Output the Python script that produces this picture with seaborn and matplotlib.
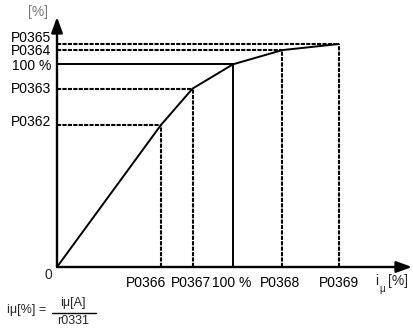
import matplotlib
matplotlib.use("Agg")
import matplotlib.pyplot as plt
import seaborn as sns
import pandas as pd

# ---- data (in % units) ----
x_labels = ["P0366", "P0367", "100 %", "P0368", "P0369"]
y_labels = ["P0362", "P0363", "100 %", "P0364", "P0365"]
x_vals = [59, 77, 100, 128, 160]
y_vals = [70, 88, 100, 107, 110]

sns.set_theme(style="white")
plt.rcParams["font.family"] = ["Liberation Sans", "DejaVu Sans"]

W, H = 413, 328
fig = plt.figure(figsize=(W / 100, H / 100), dpi=100)
ax = fig.add_axes([0, 0, 1, 1])

# pixel mapping helpers (layout only)
X0, Y0, SX, SY = 57, 267, 1.76, 2.027
def dx(px):
    return (px - X0) / SX
def dy(py):
    return (Y0 - py) / SY

ax.set_xlim(dx(0), dx(W))
ax.set_ylim(dy(H), dy(0))
ax.axis("off")

df = pd.DataFrame({"x": [0] + x_vals, "y": [0] + y_vals})
sns.lineplot(data=df, x="x", y="y", color="black", lw=1.4, ax=ax, sort=False)

dash = (0, (2.0, 0.6))
for xv, yv, xl in zip(x_vals, y_vals, x_labels):
    ls = "-" if xl == "100 %" else dash
    lw = 1.4 if xl == "100 %" else 1.5
    ax.plot([0, xv], [yv, yv], color="black", lw=lw, linestyle=ls)
    ax.plot([xv, xv], [0, yv], color="black", lw=lw, linestyle=ls)

# axes arrows
arrow = dict(arrowstyle="-|>,head_length=0.55,head_width=0.2", lw=1.7,
             color="black", mutation_scale=17, shrinkA=0, shrinkB=0)
ax.annotate("", xy=(0, dy(17)), xytext=(0, 0), arrowprops=arrow, annotation_clip=False)
ax.annotate("", xy=(dx(412), 0), xytext=(0, 0), arrowprops=arrow, annotation_clip=False)

fs = 10
# y tick labels (pixel nudges)
y_offsets = {"P0362": -3, "P0363": 0, "100 %": 1.5, "P0364": 0.5, "P0365": -6.5}
for yv, yl in zip(y_vals, y_labels):
    ax.text(dx(51), yv - y_offsets[yl] / SY, yl, ha="right", va="center",
            fontsize=fs, color="black")
# x tick labels
x_offsets = {"P0366": -15, "P0367": -2, "100 %": -1, "P0368": -2, "P0369": 0}
for xv, xl in zip(x_vals, x_labels):
    ax.text(xv + x_offsets[xl] / SX, dy(283), xl, ha="center", va="center",
            fontsize=fs, color="black")

ax.text(dx(48), dy(275), "0", ha="center", va="center", fontsize=fs)
ax.text(dx(38), dy(12), "[%]", ha="center", va="center", fontsize=fs, color="#777777")

# x axis label
ax.text(dx(377), dy(281), "i", ha="center", va="center", fontsize=fs)
ax.text(dx(382.5), dy(289), "μ", ha="center", va="center", fontsize=7)
ax.text(dx(398), dy(281), "[%]", ha="center", va="center", fontsize=fs)

# formula
ffs = 9
ax.text(dx(7), dy(310), "iμ[%] =", ha="left", va="center", fontsize=ffs)
ax.text(dx(73), dy(303), "iμ[A]", ha="center", va="center", fontsize=ffs)
ax.plot([dx(52), dx(96)], [dy(313), dy(313)], color="black", lw=1.0, clip_on=False)
ax.text(dx(73), dy(321), "r0331", ha="center", va="center", fontsize=ffs)

fig.savefig("out.png", dpi=100)
